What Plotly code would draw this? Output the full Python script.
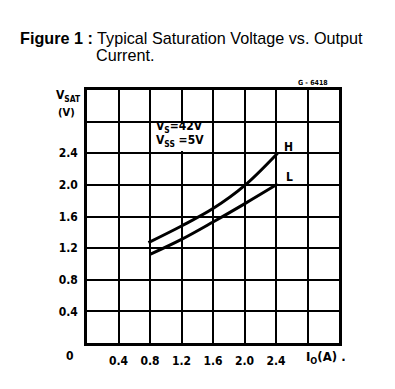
import plotly.graph_objects as go

# Data
grid_ticks = [0.0, 0.4, 0.8, 1.2, 1.6, 2.0, 2.4, 2.8, 3.2]
x_tick_text = ["", "0.4", "0.8", "1.2", "1.6", "2.0", "2.4", "", ""]
y_tick_text = ["", "0.4", "0.8", "1.2", "1.6", "2.0", "2.4", "", ""]

io_h = [0.78, 1.2, 1.6, 2.0, 2.42]
vsat_h = [1.27, 1.48, 1.70, 1.99, 2.40]
io_l = [0.80, 1.2, 1.6, 2.0, 2.42]
vsat_l = [1.12, 1.31, 1.53, 1.76, 2.01]

OFF = 8  # default page body margin
W, H = 395 - OFF, 389 - OFF
L, R, T, B = 87 - OFF, 339 - OFF, 90 - OFF, 343 - OFF
FONT = "DejaVu Sans Condensed"


def px(xp):
    return (xp - OFF - L) / (R - L)


def py(yp):
    return (B - (yp - OFF)) / (B - T)


fig = go.Figure()
fig.add_trace(go.Scatter(x=io_h, y=vsat_h, mode="lines",
                         line=dict(color="black", width=3, shape="spline"),
                         showlegend=False, hoverinfo="skip"))
fig.add_trace(go.Scatter(x=io_l, y=vsat_l, mode="lines",
                         line=dict(color="black", width=3, shape="spline"),
                         showlegend=False, hoverinfo="skip"))

tickfont = dict(family=FONT, size=12, color="black", weight="bold")
fig.update_xaxes(range=[0, 3.2], tickvals=grid_ticks, ticktext=x_tick_text,
                 showgrid=True, gridcolor="black", gridwidth=2,
                 showline=True, linecolor="black", linewidth=2.5, mirror=True,
                 zeroline=False, ticks="", tickfont=tickfont,
                 ticklabelstandoff=5, fixedrange=True)
fig.update_yaxes(range=[0, 3.2], tickvals=grid_ticks, ticktext=y_tick_text,
                 showgrid=True, gridcolor="black", gridwidth=2,
                 showline=True, linecolor="black", linewidth=2.5, mirror=True,
                 zeroline=False, ticks="", tickfont=tickfont,
                 ticklabelstandoff=4, fixedrange=True)

ann = []


def add(text, xp, yp, xanchor="left", yanchor="middle", size=12, family=FONT, weight="bold"):
    ann.append(dict(text=text, x=px(xp), y=py(yp), xref="paper", yref="paper",
                    xanchor=xanchor, yanchor=yanchor, showarrow=False,
                    font=dict(family=family, size=size, color="black", weight=weight)))


# title
add("<b>Figure 1 :</b> Typical Saturation Voltage vs. Output", 18, 38,
    family="Liberation Sans", size=16.2, weight="normal")
add("Current.", 94, 55, family="Liberation Sans", size=16.2, weight="normal")

# axis labels
add("V<sub>SAT</sub>", 83, 96, xanchor="right", size=12)
add("(V)", 77, 112, xanchor="right", size=11)
add("0", 70, 356, xanchor="center")
add("I<sub>O</sub>(A) .", 304, 357, size=13)

# condition text (white box hides the grid behind it)
add("V<sub>S</sub>=42V", 154, 127)
add("V<sub>SS</sub> =5V", 154, 141)
add("H", 282, 147)
add("L", 284, 177)
add("G - 6418", 313, 83, xanchor="center", size=7)

shapes = [dict(type="rect", xref="paper", yref="paper",
               x0=px(154), x1=px(200), y0=py(151), y1=py(124),
               fillcolor="white", line=dict(width=0), layer="above")]

fig.update_layout(width=W, height=H, margin=dict(l=L, r=W - R, t=T, b=H - B),
                  paper_bgcolor="white", plot_bgcolor="white",
                  annotations=ann, shapes=shapes, showlegend=False)

fig.write_html("out.html")
